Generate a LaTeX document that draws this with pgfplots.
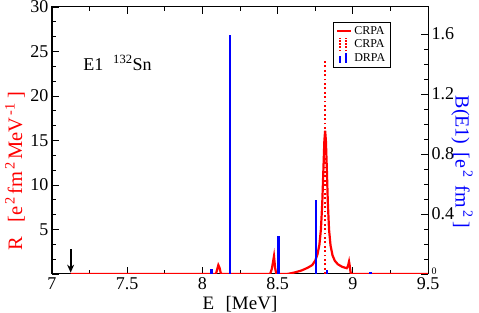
\documentclass[border=0pt]{standalone}
\usepackage{fontspec}
\setmainfont{Liberation Serif}
\usepackage{pgfplots}
\pgfplotsset{compat=1.18}
\usetikzlibrary{arrows.meta}
\begin{document}
\begin{tikzpicture}
\begin{axis}[
  scale only axis, width=376pt, height=267pt,
  xmin=7, xmax=9.5, ymin=0, ymax=30,
  xtick={7,7.5,8,8.5,9,9.5}, minor x tick num=1, xtick pos=both,
  ytick={0,5,10,15,20,25,30}, yticklabels={,5,10,15,20,25,30},
  minor y tick num=2, ytick pos=left,
  tick align=inside, major tick length=7pt, minor tick length=4pt,
  every tick/.style={black, line width=0.8pt},
  axis line style={line width=1pt},
  /pgf/number format/assume math mode=true,
  ticklabel style={font=\fontsize{18}{18}\selectfont},
  xlabel={E\hspace{0.6em}[MeV]},
  xlabel style={font=\fontsize{19}{19}\selectfont},
  ylabel={R\hspace{0.7em}[e\textsuperscript{\,2}\hspace{0.1em}fm\textsuperscript{\,2}\hspace{0.1em}MeV\textsuperscript{\,-1}\hspace{0.2em}]},
  ylabel style={font=\fontsize{20.5}{20.5}\selectfont, text=red, at={(rel axis cs:-0.0984,0.385)}, anchor=center},
  legend style={at={(0.747,0.944)}, anchor=north west, draw=black, line width=0.9pt,
    font=\fontsize{12}{12}\selectfont, inner xsep=3pt, inner ysep=2pt, row sep=-0.5pt,
    cells={anchor=west}},
  legend cell align=left,
]
\addlegendimage{legend image code/.code={\draw[red, line width=2pt] (0pt,0pt) -- (14pt,0pt);}}
\addlegendentry{CRPA}
\addlegendimage{legend image code/.code={
    \draw[red, line width=1.8pt, dash pattern=on 1.6pt off 1.6pt] (3pt,-7pt) -- (3pt,6pt);
    \draw[red, line width=1.8pt, dash pattern=on 1.6pt off 1.6pt] (9pt,-7pt) -- (9pt,6pt);}}
\addlegendentry{CRPA}
\addlegendimage{legend image code/.code={
    \draw[blue, line width=2pt] (3pt,-4pt) -- (3pt,3pt);
    \draw[blue, line width=2pt] (9pt,-4pt) -- (9pt,6pt);}}
\addlegendentry{DRPA}
\addplot[red, line width=2.2pt, no marks, forget plot]
coordinates {
(7.124,0) (8.0,0) (8.09,0) (8.098,0.5) (8.106,1.0) (8.114,0.7) (8.122,0.1) (8.13,0)
(8.45,0) (8.462,0.6) (8.476,2.0) (8.484,0.6) (8.492,0) (8.56,0)
(8.58,0.05) (8.62,0.2) (8.66,0.4) (8.70,0.7) (8.73,1.0) (8.75,1.5) (8.765,2.2)
(8.778,3.3) (8.788,5) (8.797,8) (8.805,12) (8.811,15) (8.816,16.1) (8.821,15)
(8.827,12) (8.834,8) (8.842,5) (8.852,3.2) (8.865,2.1) (8.88,1.5) (8.90,1.1)
(8.93,0.8) (8.96,0.65) (8.968,0.9) (8.975,1.4) (8.98,0.9) (8.985,0.2) (8.99,0)
(9.5,0)
};
\addplot[red, line width=2pt, dash pattern=on 1.8pt off 2.6pt, no marks, forget plot]
coordinates {(8.817,0) (8.817,23.9)};
\draw[black, line width=2pt, -{Stealth[length=8pt,width=7pt]}] (axis cs:7.124,2.8) -- (axis cs:7.124,0.15);
\node[anchor=base west, font=\fontsize{18}{18}\selectfont, inner sep=0pt]
  at (axis cs:7.207,22.9) {E1\hspace{0.55em}\textsuperscript{132}Sn};
\end{axis}
\begin{axis}[
  scale only axis, width=376pt, height=267pt,
  xmin=7, xmax=9.5, ymin=0, ymax=1.78,
  hide x axis,
  ytick pos=right, yticklabel pos=right,
  ytick={0,0.4,0.8,1.2,1.6},
  yticklabels={{\fontsize{10}{10}\selectfont\raisebox{6pt}{0}},0.4,0.8,1.2,1.6},
  minor y tick num=3,
  tick align=inside, major tick length=7pt, minor tick length=4pt,
  every tick/.style={black, line width=0.8pt},
  axis line style={line width=1pt},
  /pgf/number format/assume math mode=true,
  ticklabel style={font=\fontsize{18}{18}\selectfont},
  ylabel={B(E1)\hspace{0.4em}[e\textsuperscript{\,2}\hspace{0.4em}fm\textsuperscript{\,2}\,]},
  ylabel style={font=\fontsize{20}{20}\selectfont, text=blue, at={(rel axis cs:1.0904,0.42)}, anchor=center, rotate=180},
]
\addplot[ycomb, blue, line width=2.8pt, no marks] coordinates {
(8.062,0.03) (8.183,1.59) (8.507,0.253) (8.755,0.493) (8.829,0.027) (9.115,0.01)
};
\end{axis}
\pgfresetboundingbox
\useasboundingbox (-52pt,-39pt) rectangle (427pt,274pt);
\end{tikzpicture}
\end{document}
